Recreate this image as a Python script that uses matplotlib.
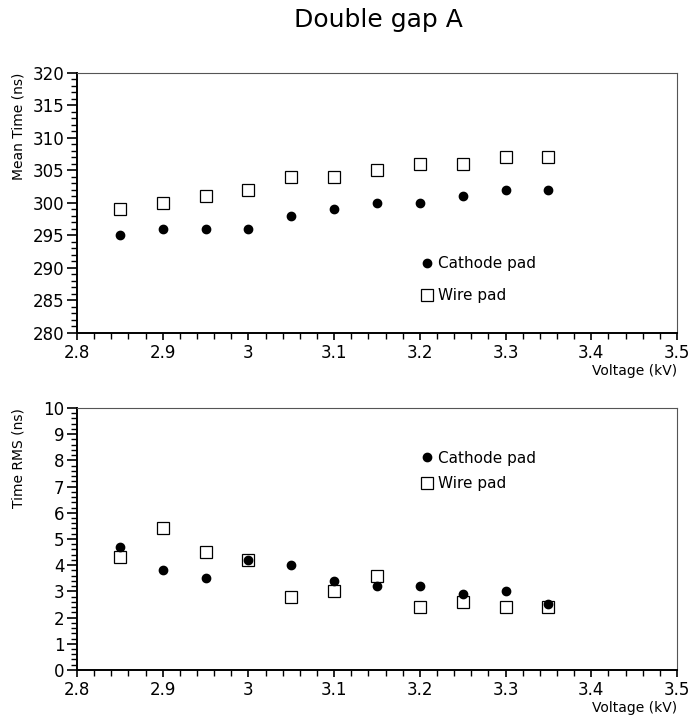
import matplotlib
matplotlib.use('Agg')
import matplotlib.pyplot as plt
from matplotlib.ticker import MultipleLocator

# 전압 (kV)
voltage = [2.85, 2.9, 2.95, 3.0, 3.05, 3.1, 3.15, 3.2, 3.25, 3.3, 3.35]

# 평균 시간 (ns)
mean_cathode = [295, 296, 296, 296, 298, 299, 300, 300, 301, 302, 302]
mean_wire = [299, 300, 301, 302, 304, 304, 305, 306, 306, 307, 307]

# 시간 RMS (ns)
rms_cathode = [4.7, 3.8, 3.5, 4.2, 4.0, 3.4, 3.2, 3.2, 2.9, 3.0, 2.5]
rms_wire = [4.3, 5.4, 4.5, 4.2, 2.8, 3.0, 3.6, 2.4, 2.6, 2.4, 2.4]

labels = ['Cathode pad', 'Wire pad']

plt.rcParams['font.family'] = ['DejaVu Sans']

fig = plt.figure(figsize=(6.91, 7.19), dpi=100)
fig.text(0.547, 0.972, 'Double gap A', ha='center', va='center', fontsize=18)

ax1 = fig.add_axes([0.1114, 0.5369, 0.8683, 0.3616])
ax2 = fig.add_axes([0.1114, 0.0682, 0.8683, 0.3644])


def style_axis(ax, ylim, ymajor, yminor, ylabel):
    ax.set_xlim(2.8, 3.5)
    ax.set_ylim(*ylim)
    ax.xaxis.set_major_locator(MultipleLocator(0.1))
    ax.xaxis.set_minor_locator(MultipleLocator(0.02))
    ax.yaxis.set_major_locator(MultipleLocator(ymajor))
    ax.yaxis.set_minor_locator(MultipleLocator(yminor))
    ax.xaxis.set_major_formatter(plt.FuncFormatter(lambda v, p: f'{v:g}'))
    ax.yaxis.set_major_formatter(plt.FuncFormatter(lambda v, p: f'{v:g}'))
    ax.tick_params(axis='both', which='major', direction='out', labelsize=12,
                   width=1.2, top=False, right=False)
    ax.tick_params(axis='y', which='major', length=7, pad=2)
    ax.tick_params(axis='x', which='major', length=5, pad=3)
    ax.tick_params(axis='both', which='minor', direction='out', length=4,
                   width=1.0, top=False, right=False)
    ax.spines['left'].set_linewidth(1.4)
    ax.spines['bottom'].set_linewidth(1.4)
    ax.spines['top'].set_linewidth(0.8)
    ax.spines['right'].set_linewidth(0.8)
    ax.spines['top'].set_color('#555555')
    ax.spines['right'].set_color('#555555')
    ax.set_ylabel(ylabel, fontsize=10)
    ax.yaxis.set_label_coords(-0.085, 1.0)
    ax.yaxis.label.set_ha('right')
    ax.set_xlabel('Voltage (kV)', fontsize=10)
    ax.xaxis.set_label_coords(1.0, -0.12)
    ax.xaxis.label.set_ha('right')


style_axis(ax1, (280, 320), 5, 1, 'Mean Time (ns)')
style_axis(ax2, (0, 10), 1, 0.2, 'Time RMS (ns)')

for ax, yc, yw, anchor, spacing in [
        (ax1, mean_cathode, mean_wire, (0.563, 0.318), 1.1),
        (ax2, rms_cathode, rms_wire, (0.563, 0.86), 0.7)]:
    ax.plot(voltage, yc, 'o', color='black', markersize=6, label=labels[0])
    ax.plot(voltage, yw, 's', markerfacecolor='none', markeredgecolor='black',
            markeredgewidth=0.9, markersize=8, label=labels[1])
    ax.legend(loc='upper left', bbox_to_anchor=anchor, frameon=False,
              fontsize=11, handlelength=0.8, handletextpad=0.3,
              labelspacing=spacing, borderaxespad=0)

fig.savefig('out.png', dpi=100)
